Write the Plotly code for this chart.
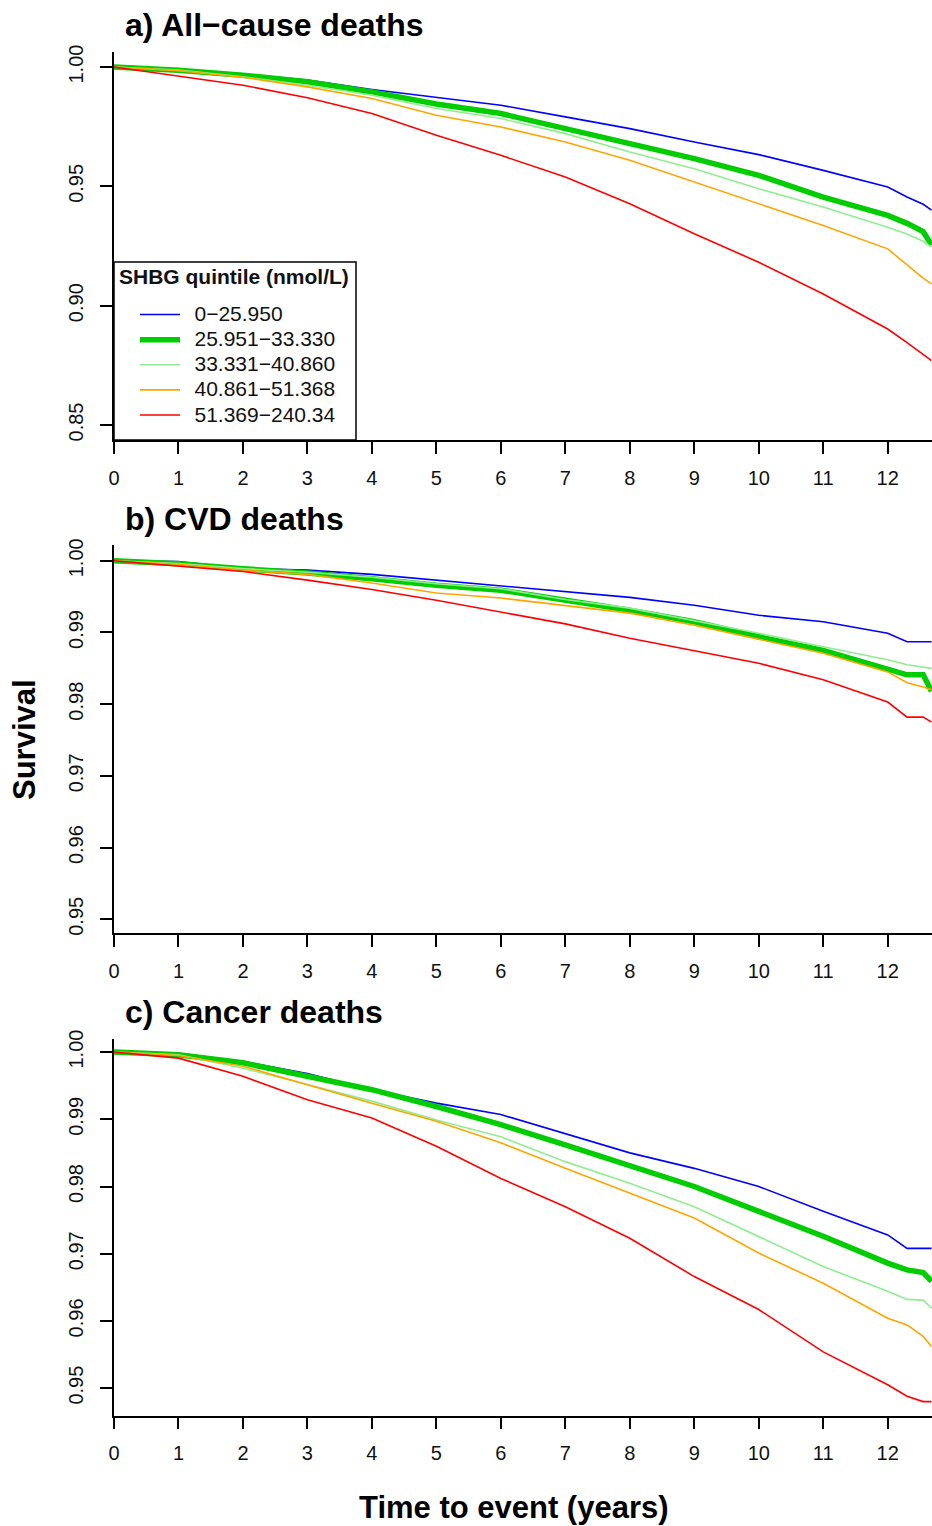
import plotly.graph_objects as go

# ---------------- data ----------------
years = [0, 1, 2, 3, 4, 5, 6, 7, 8, 9, 10, 11, 12, 12.3, 12.55, 12.68]

series_names = ["0−25.950", "25.951−33.330", "33.331−40.860", "40.861−51.368", "51.369−240.34"]
series_colors = ["#0000FF", "#00CD00", "#90EE90", "#FFA500", "#FF0000"]
series_widths = [1.6, 5.5, 1.6, 1.6, 1.6]

# a) All-cause deaths
allcause_q1 = [1.0, 0.9990, 0.9971, 0.9945, 0.9906, 0.9872, 0.9840, 0.9791, 0.9742, 0.9686, 0.9633, 0.9567, 0.9497, 0.9455, 0.9425, 0.9400]
allcause_q2 = [1.0, 0.9987, 0.9966, 0.9938, 0.9896, 0.9845, 0.9805, 0.9742, 0.9679, 0.9616, 0.9546, 0.9455, 0.9378, 0.9345, 0.9310, 0.9255]
allcause_q3 = [1.0, 0.9987, 0.9959, 0.9924, 0.9882, 0.9826, 0.9784, 0.9721, 0.9644, 0.9574, 0.9490, 0.9413, 0.9329, 0.9300, 0.9270, 0.9245]
allcause_q4 = [1.0, 0.9985, 0.9957, 0.9917, 0.9868, 0.9798, 0.9749, 0.9686, 0.9609, 0.9518, 0.9427, 0.9336, 0.9238, 0.9170, 0.9115, 0.9091]
allcause_q5 = [1.0, 0.9962, 0.9924, 0.9871, 0.9805, 0.9714, 0.9630, 0.9539, 0.9427, 0.9301, 0.9182, 0.9049, 0.8902, 0.8845, 0.8795, 0.8770]

# b) CVD deaths
cvd_q1 = [1.0, 0.9999, 0.9989, 0.9987, 0.9981, 0.9973, 0.9966, 0.9958, 0.9949, 0.9938, 0.9924, 0.9915, 0.9899, 0.9887, 0.9887, 0.9887]
cvd_q2 = [1.0, 0.9996, 0.9989, 0.9983, 0.9975, 0.9966, 0.9959, 0.9945, 0.9931, 0.9915, 0.9894, 0.9875, 0.9850, 0.9841, 0.9841, 0.9818]
cvd_q3 = [1.0, 0.9996, 0.9989, 0.9984, 0.9977, 0.9968, 0.9961, 0.9946, 0.9934, 0.9917, 0.9899, 0.9880, 0.9862, 0.9855, 0.9852, 0.9850]
cvd_q4 = [1.0, 0.9995, 0.9987, 0.9981, 0.9969, 0.9955, 0.9948, 0.9937, 0.9927, 0.9910, 0.9890, 0.9871, 0.9845, 0.9830, 0.9824, 0.9820]
cvd_q5 = [1.0, 0.9993, 0.9985, 0.9973, 0.9960, 0.9945, 0.9929, 0.9912, 0.9892, 0.9875, 0.9857, 0.9834, 0.9803, 0.9782, 0.9782, 0.9775]

# c) Cancer deaths
cancer_q1 = [1.0, 0.9998, 0.9986, 0.9968, 0.9944, 0.9924, 0.9907, 0.9879, 0.9850, 0.9827, 0.9800, 0.9763, 0.9728, 0.9708, 0.9708, 0.9708]
cancer_q2 = [1.0, 0.9996, 0.9984, 0.9965, 0.9944, 0.9919, 0.9892, 0.9862, 0.9832, 0.9800, 0.9763, 0.9726, 0.9686, 0.9676, 0.9672, 0.9659]
cancer_q3 = [1.0, 0.9996, 0.9976, 0.9951, 0.9927, 0.9899, 0.9874, 0.9837, 0.9805, 0.9770, 0.9726, 0.9681, 0.9644, 0.9632, 0.9631, 0.9619]
cancer_q4 = [1.0, 0.9995, 0.9979, 0.9951, 0.9924, 0.9897, 0.9865, 0.9827, 0.9790, 0.9753, 0.9701, 0.9656, 0.9604, 0.9594, 0.9577, 0.9562]
cancer_q5 = [1.0, 0.9991, 0.9964, 0.9929, 0.9902, 0.9860, 0.9812, 0.9770, 0.9723, 0.9666, 0.9617, 0.9554, 0.9505, 0.9488, 0.9480, 0.9480]

panel_titles = ["a) All−cause deaths", "b) CVD deaths", "c) Cancer deaths"]
x_ticks = list(range(0, 13))
y_ticks_a = [0.85, 0.90, 0.95, 1.00]
y_ticks_bc = [0.95, 0.96, 0.97, 0.98, 0.99, 1.00]
y_title = "Survival"
x_title = "Time to event (years)"
legend_title = "SHBG quintile (nmol/L)"

# ---------------- figure ----------------
W, H = 932, 1526
FONT = "Liberation Sans, Arial, sans-serif"

panels = [
    [allcause_q1, allcause_q2, allcause_q3, allcause_q4, allcause_q5],
    [cvd_q1, cvd_q2, cvd_q3, cvd_q4, cvd_q5],
    [cancer_q1, cancer_q2, cancer_q3, cancer_q4, cancer_q5],
]

px_rows = [(52, 440), (545, 933.3), (1039.3, 1415.7)]
y_ranges = [[0.8437, 1.0063], [0.94805, 1.0022], [0.9459, 1.0019]]
y_ticks = [y_ticks_a, y_ticks_bc, y_ticks_bc]
title_y_px = [25, 519, 1012]

fig = go.Figure()

NB = "\u00a0"
for p, series in enumerate(panels):
    ax = "" if p == 0 else str(p + 1)
    for i, vals in enumerate(series):
        fig.add_trace(go.Scatter(
            x=years, y=vals, mode="lines",
            line=dict(color=series_colors[i], width=series_widths[i]),
            name=NB * 2 + '<span style="font-size:21px">' + series_names[i] + "</span>",
            showlegend=(p == 0), legendrank=i + 1,
            xaxis="x" + ax, yaxis="y" + ax,
        ))

axis_common = dict(
    showline=True, linecolor="black", linewidth=1.5,
    ticks="outside", ticklen=12, tickwidth=1.5, tickcolor="black",
    showgrid=False, zeroline=False, automargin=False,
    tickfont=dict(family=FONT, size=20, color="#111111"),
)

layout = dict(
    width=W, height=H,
    margin=dict(l=0, r=0, t=0, b=0, autoexpand=False),
    plot_bgcolor="white", paper_bgcolor="white",
    font=dict(family=FONT, color="black"),
    showlegend=True,
    legend=dict(
        x=135 / W, y=1 - 297 / H, xanchor="left", yanchor="top",
        bgcolor="rgba(0,0,0,0)", borderwidth=0,
        font=dict(family=FONT, size=17, color="#111111"),
        traceorder="normal", itemwidth=40,
    ),
    shapes=[dict(
        type="rect", xref="paper", yref="paper",
        x0=114 / W, x1=356 / W, y0=1 - 440 / H, y1=1 - 262 / H,
        fillcolor="white", line=dict(color="black", width=1.5), layer="above",
    )],
)

annotations = []
for p in range(3):
    ax = "" if p == 0 else str(p + 1)
    top, bot = px_rows[p]
    layout["xaxis" + ax] = dict(
        axis_common, domain=[114 / W, 1.0], range=[0, 12.687],
        tickvals=x_ticks, ticktext=[str(v) for v in x_ticks],
        anchor="y" + ax, ticklabelstandoff=7,
    )
    layout["yaxis" + ax] = dict(
        axis_common, domain=[1 - bot / H, 1 - top / H], range=y_ranges[p],
        tickvals=y_ticks[p], ticktext=["%.2f" % v for v in y_ticks[p]],
        tickangle=-90, anchor="x" + ax, ticklabelstandoff=9,
    )
    annotations.append(dict(
        text="<b>" + panel_titles[p] + "</b>", xref="paper", yref="paper",
        x=123 / W, y=1 - title_y_px[p] / H, xanchor="left", yanchor="middle",
        showarrow=False, font=dict(family=FONT, size=32, color="black"),
    ))

annotations.append(dict(
    text="<b>" + legend_title + "</b>", xref="paper", yref="paper",
    x=117 / W, y=1 - 277 / H, xanchor="left", yanchor="middle",
    showarrow=False, font=dict(family=FONT, size=21, color="#111111"),
))
annotations.append(dict(
    text="<b>" + y_title + "</b>", xref="paper", yref="paper",
    x=25 / W, y=1 - 740 / H, xanchor="center", yanchor="middle", textangle=-90,
    showarrow=False, font=dict(family=FONT, size=31, color="black"),
))
annotations.append(dict(
    text="<b>" + x_title + "</b>", xref="paper", yref="paper",
    x=514 / W, y=1 - 1507 / H, xanchor="center", yanchor="middle",
    showarrow=False, font=dict(family=FONT, size=31, color="black"),
))
layout["annotations"] = annotations

fig.update_layout(**layout)
fig.write_html("out.html", config={"displayModeBar": False},
               post_script="document.body.style.margin='0';document.body.style.overflow='hidden';")
